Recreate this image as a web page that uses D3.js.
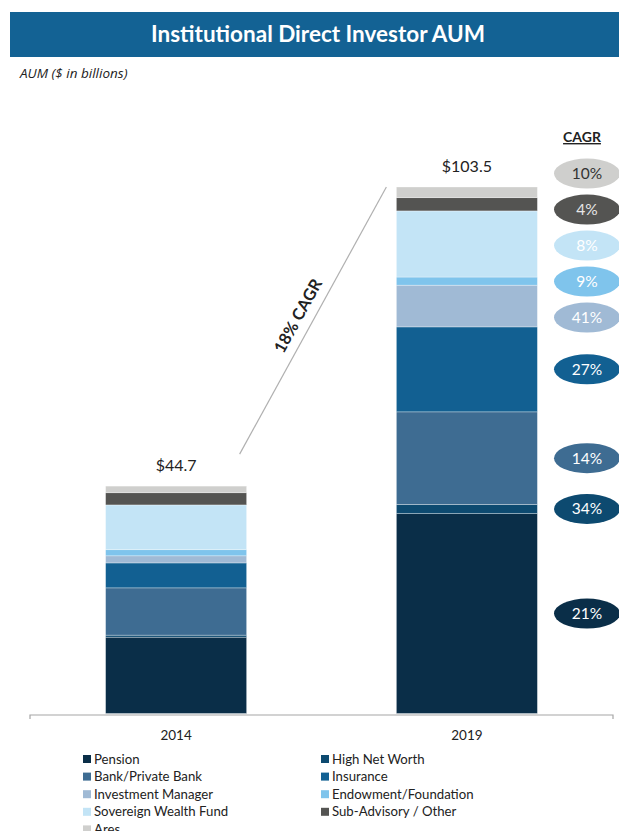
<!DOCTYPE html>
<html>
<head>
<meta charset="utf-8">
<script src="https://cdn.jsdelivr.net/npm/d3@7"></script>
<style>
  body { margin: 0; background: #fff; }
  svg { display: block; font-family: Lato, "Open Sans", sans-serif; }
</style>
</head>
<body>
<div id="chart"></div>
<script>
var svgWidth = 619;
var svgHeight = 831;

// data (AUM, $ in billions)
var years = ["2014", "2019"];
var segments = ["Pension", "High Net Worth", "Bank/Private Bank", "Insurance", "Investment Manager",
  "Endowment/Foundation", "Sovereign Wealth Fund", "Sub-Advisory / Other", "Ares"];
var values2014 = [15.0, 0.4, 9.3, 4.9, 1.4, 1.2, 8.8, 2.4, 1.3];
var values2019 = [39.3, 1.8, 18.2, 16.7, 8.2, 1.6, 13.0, 2.6, 2.1];
var totals = [44.7, 103.5];
var cagrLabels = ["21%", "34%", "14%", "27%", "41%", "9%", "8%", "4%", "10%"];
var totalCagr = "18% CAGR";

var colors = ["#0a2e48", "#0d4a70", "#3e6c92", "#126092", "#a0bad5", "#7fc4ec", "#c3e4f6", "#545452", "#cfcfcd"];
var cagrTextColors = ["#fff", "#fff", "#fff", "#fff", "#fff", "#fff", "#fff", "#e6e6e6", "#333"];

var svg = d3.select("#chart")
  .append("svg")
  .attr("width", svgWidth)
  .attr("height", svgHeight);

// title banner
svg.append("rect")
  .attr("x", 10).attr("y", 12)
  .attr("width", svgWidth - 10).attr("height", 45)
  .attr("fill", "#136294");

svg.append("text")
  .attr("x", 318).attr("y", 42)
  .attr("text-anchor", "middle")
  .attr("fill", "#fff")
  .style("font-size", "22.5px")
  .style("font-weight", "bold")
  .text("Institutional Direct Investor AUM");

svg.append("text")
  .attr("x", 20).attr("y", 78)
  .attr("fill", "#222")
  .style("font-family", "'Open Sans', sans-serif")
  .style("font-size", "13.5px")
  .style("font-style", "italic")
  .text("AUM ($ in billions)");

// scales
var xScale = d3.scaleBand()
  .domain(years)
  .range([30, 613])
  .paddingInner(0.515)
  .paddingOuter(0.26);

var yScale = d3.scaleLinear()
  .domain([0, 103.5])
  .range([713.5, 187]);

var seriesData = [values2014, values2019];

// stack the segments
var stacks = seriesData.map(function(vals, yi) {
  var acc = 0;
  return vals.map(function(v, i) {
    var s = { year: years[yi], index: i, y0: acc, y1: acc + v };
    acc += v;
    return s;
  });
});

var bars = svg.append("g");
stacks.forEach(function(stack) {
  bars.selectAll(null)
    .data(stack)
    .enter()
    .append("rect")
    .attr("x", d => xScale(d.year))
    .attr("width", xScale.bandwidth())
    .attr("y", d => yScale(d.y1))
    .attr("height", d => yScale(d.y0) - yScale(d.y1))
    .attr("fill", d => colors[d.index])
    .attr("stroke", "#ffffff")
    .attr("stroke-opacity", 0.45)
    .attr("stroke-width", 0.7);
});

// totals above bars
svg.selectAll(".total")
  .data(totals)
  .enter()
  .append("text")
  .attr("class", "total")
  .attr("x", (d, i) => xScale(years[i]) + xScale.bandwidth() / 2)
  .attr("y", d => yScale(d) - 15)
  .attr("text-anchor", "middle")
  .attr("fill", "#222")
  .style("font-size", "16px")
  .text(d => "$" + d.toFixed(1));

// x axis
var axisY = 715;
svg.append("path")
  .attr("d", `M30,${axisY + 4}V${axisY}H613V${axisY + 4}`)
  .attr("fill", "none")
  .attr("stroke", "#a6a6a6")
  .attr("stroke-width", 1.2);

svg.selectAll(".year")
  .data(years)
  .enter()
  .append("text")
  .attr("class", "year")
  .attr("x", d => xScale(d) + xScale.bandwidth() / 2)
  .attr("y", 740)
  .attr("text-anchor", "middle")
  .attr("fill", "#222")
  .style("font-size", "13.5px")
  .text(d => d);

// growth line between bars
var x0 = xScale("2014") + xScale.bandwidth() - 7;
var y0 = yScale(totals[0]) - 32;
var x1 = xScale("2019") - 10;
var y1 = yScale(totals[1]);
svg.append("line")
  .attr("x1", x0).attr("y1", y0)
  .attr("x2", x1).attr("y2", y1)
  .attr("stroke", "#b0b0b0")
  .attr("stroke-width", 1.2);

var angle = Math.atan2(y1 - y0, x1 - x0) * 180 / Math.PI;
svg.append("text")
  .attr("transform", `translate(${(x0 + x1) / 2 - 10},${(y0 + y1) / 2 - 2}) rotate(${angle})`)
  .attr("text-anchor", "middle")
  .attr("fill", "#222")
  .style("font-size", "16.5px")
  .style("font-weight", "bold")
  .text(totalCagr);

// CAGR column header
svg.append("text")
  .attr("x", 582).attr("y", 142)
  .attr("text-anchor", "middle")
  .attr("fill", "#222")
  .style("font-size", "14px")
  .style("font-weight", "bold")
  .style("text-decoration", "underline")
  .text("CAGR");

// CAGR bubbles: start at segment middles of 2019, then spread apart
var labelPos = stacks[1].map(function(d) {
  return { index: d.index, y: yScale((d.y0 + d.y1) / 2) };
}).sort((a, b) => a.y - b.y);
var minGap = 36;
for (var it = 0; it < 200; it++) {
  for (var k = 1; k < labelPos.length; k++) {
    var gap = labelPos[k].y - labelPos[k - 1].y;
    if (gap < minGap) {
      var shift = (minGap - gap) / 2;
      labelPos[k].y += shift;
      labelPos[k - 1].y -= shift;
    }
  }
}

var cx = 587;
var bubbles = svg.selectAll(".bubble")
  .data(labelPos)
  .enter()
  .append("g")
  .attr("class", "bubble")
  .attr("transform", d => `translate(${cx},${d.y})`);

bubbles.append("ellipse")
  .attr("rx", 33)
  .attr("ry", 15)
  .attr("fill", d => colors[d.index]);

bubbles.append("text")
  .attr("text-anchor", "middle")
  .attr("dy", "0.35em")
  .attr("fill", d => cagrTextColors[d.index])
  .style("font-size", "15.5px")
  .text(d => cagrLabels[d.index]);

// legend: two columns, row-major
var legend = svg.append("g");
var legendItems = legend.selectAll(".legend-item")
  .data(segments)
  .enter()
  .append("g")
  .attr("class", "legend-item")
  .attr("transform", (d, i) => `translate(${i % 2 === 0 ? 83 : 321},${759 + Math.floor(i / 2) * 17.6})`);

legendItems.append("rect")
  .attr("x", 0).attr("y", -4)
  .attr("width", 8).attr("height", 8)
  .attr("fill", (d, i) => colors[i]);

legendItems.append("text")
  .attr("x", 11)
  .attr("dy", "0.35em")
  .attr("fill", "#222")
  .style("font-size", "13.2px")
  .text(d => d);
</script>
</body>
</html>
